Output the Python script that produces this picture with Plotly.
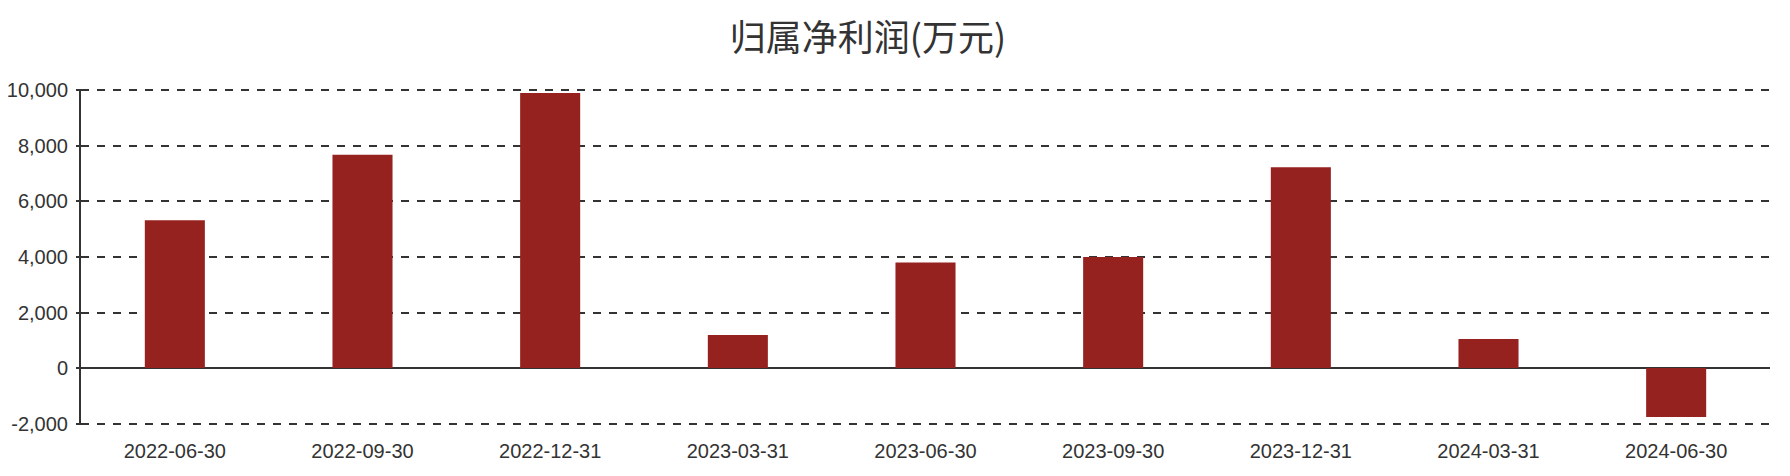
import plotly.graph_objects as go

DARK_RED = "#962220"
INK = "#333333"

periods = ["2022-06-30", "2022-09-30", "2022-12-31", "2023-03-31", "2023-06-30",
           "2023-09-30", "2023-12-31", "2024-03-31", "2024-06-30"]
net_profit = [5320, 7680, 9910, 1190, 3800, 4000, 7230, 1050, -1760]
y_ticks = [-2000, 0, 2000, 4000, 6000, 8000, 10000]
y_tick_text = ["-2,000", "0", "2,000", "4,000", "6,000", "8,000", "10,000"]

fig = go.Figure(
    go.Bar(
        x=periods,
        y=net_profit,
        marker={"color": DARK_RED, "line": {"width": 0}},
        hovertemplate="%{x}: %{y:,}<extra></extra>",
    )
)

# page body has an 8px margin, so the figure is sized to fit inside the window
fig.update_layout(
    width=1774,
    height=460,
    paper_bgcolor="white",
    plot_bgcolor="white",
    bargap=0.68,
    showlegend=False,
    font={"family": "Liberation Sans, Arial, sans-serif", "color": INK, "size": 20},
    margin={"l": 73, "r": 12, "t": 81, "b": 43},
    title={
        "text": "归属净利润(万元)",
        "x": 0.4848,
        "xanchor": "center",
        "y": 0.935,
        "yanchor": "middle",
        "font": {"family": "Noto Sans CJK SC, sans-serif", "size": 36, "color": INK},
    },
)

fig.update_xaxes(
    type="category",
    showgrid=False,
    showline=False,
    ticks="",
    ticklabelstandoff=12,
    automargin=False,
    tickfont={"size": 20, "color": INK},
)

# a little padding so plotly keeps the gridlines at 10,000 and -2,000
fig.update_yaxes(
    range=[-2050, 10050],
    tickvals=y_ticks,
    ticktext=y_tick_text,
    showgrid=True,
    gridcolor=INK,
    gridwidth=2,
    griddash="8px,8px",
    zeroline=True,
    zerolinecolor=INK,
    zerolinewidth=2,
    showline=True,
    linecolor=INK,
    linewidth=2,
    ticks="outside",
    ticklen=3,
    tickwidth=2,
    tickcolor=INK,
    ticklabelstandoff=4,
    automargin=False,
    tickfont={"size": 20, "color": INK},
)

fig.write_html("out.html")
